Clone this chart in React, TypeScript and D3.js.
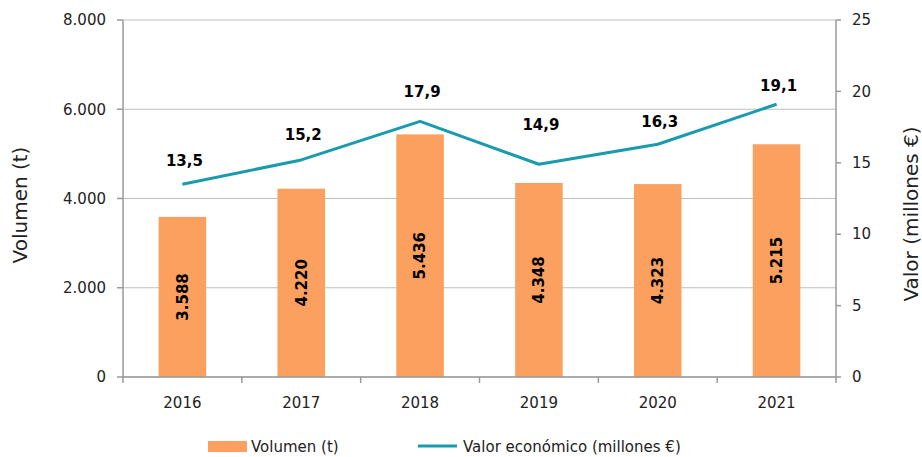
import React from "react";
import * as d3 from "d3";

const years = ["2016", "2017", "2018", "2019", "2020", "2021"];
const volumen = [3588, 4220, 5436, 4348, 4323, 5215];
const valor = [13.5, 15.2, 17.9, 14.9, 16.3, 19.1];
const leftTicks = [0, 2000, 4000, 6000, 8000];
const rightTicks = [0, 5, 10, 15, 20, 25];
// vertical gap between line point and its label (layout)
const valorLabelGap = [24, 25, 30, 40, 23, 19];

const W = 922;
const H = 457;
const M = { left: 123, right: 836, top: 20, bottom: 377 };
const FONT = "'DejaVu Sans', sans-serif";
const ORANGE = "#FBA05F";
const TEAL = "#1A9BAD";

const fmtVol = (v: number) => d3.format(",")(v).replace(/,/g, ".");
const fmtVal = (v: number) => v.toFixed(1).replace(".", ",");

export default function App() {
  const x = d3
    .scaleBand<string>()
    .domain(years)
    .range([M.left, M.right])
    .paddingInner(0.6)
    .paddingOuter(0.3);
  const step = x.step();
  const yL = d3.scaleLinear().domain([0, 8000]).range([M.bottom, M.top]);
  const yR = d3.scaleLinear().domain([0, 25]).range([M.bottom, M.top]);
  const cx = (d: string) => (x(d) as number) + x.bandwidth() / 2;

  const line = d3
    .line<number>()
    .x((_, i) => cx(years[i]))
    .y((d) => yR(d));

  return (
    <svg
      width={W}
      height={H}
      style={{ position: "absolute", left: 0, top: 0, background: "#fff" }}
      fontFamily={FONT}
    >
      {/* gridlines */}
      {leftTicks.map((t) => (
        <line
          key={"g" + t}
          x1={M.left}
          x2={M.right}
          y1={yL(t)}
          y2={yL(t)}
          stroke="#BFBFBF"
          strokeWidth={1.2}
        />
      ))}
      {/* bars */}
      {volumen.map((v, i) => (
        <rect
          key={"b" + i}
          x={x(years[i])}
          y={yL(v)}
          width={x.bandwidth()}
          height={yL(0) - yL(v)}
          fill={ORANGE}
        />
      ))}
      {/* axes */}
      <line x1={M.left} x2={M.left} y1={M.top} y2={M.bottom} stroke="#9A9A9A" strokeWidth={1.5} />
      <line x1={M.right} x2={M.right} y1={M.top} y2={M.bottom} stroke="#9A9A9A" strokeWidth={1.5} />
      <line x1={M.left} x2={M.right} y1={M.bottom} y2={M.bottom} stroke="#9A9A9A" strokeWidth={1.5} />
      {leftTicks.map((t) => (
        <g key={"lt" + t}>
          <line x1={M.left - 6} x2={M.left} y1={yL(t)} y2={yL(t)} stroke="#9A9A9A" strokeWidth={1.5} />
          <text x={M.left - 17} y={yL(t)} dy="0.35em" textAnchor="end" fontSize={15} fill="#222">
            {fmtVol(t)}
          </text>
        </g>
      ))}
      {rightTicks.map((t) => (
        <g key={"rt" + t}>
          <line x1={M.right} x2={M.right + 5} y1={yR(t)} y2={yR(t)} stroke="#9A9A9A" strokeWidth={1.5} />
          <text x={M.right + 16} y={yR(t)} dy="0.35em" textAnchor="start" fontSize={15} fill="#222">
            {t}
          </text>
        </g>
      ))}
      {d3.range(years.length + 1).map((i) => (
        <line
          key={"xt" + i}
          x1={M.left + i * step}
          x2={M.left + i * step}
          y1={M.bottom}
          y2={M.bottom + 6}
          stroke="#9A9A9A"
          strokeWidth={1.5}
        />
      ))}
      {years.map((yv) => (
        <text key={"xl" + yv} x={cx(yv)} y={408} textAnchor="middle" fontSize={15} fill="#222">
          {yv}
        </text>
      ))}
      {/* bar labels */}
      {volumen.map((v, i) => {
        const px = cx(years[i]);
        const py = (yL(v) + yL(0)) / 2;
        return (
          <text
            key={"bl" + i}
            transform={`translate(${px},${py}) rotate(-90)`}
            textAnchor="middle"
            dy="0.36em"
            fontSize={15}
            fontWeight="bold"
            fill="#000"
          >
            {fmtVol(v)}
          </text>
        );
      })}
      {/* line */}
      <path d={line(valor) || ""} fill="none" stroke={TEAL} strokeWidth={3} strokeLinejoin="round" />
      {valor.map((v, i) => (
        <text
          key={"vl" + i}
          x={cx(years[i]) + 2}
          y={yR(v) - valorLabelGap[i]}
          dy="0.36em"
          textAnchor="middle"
          fontSize={15}
          fontWeight="bold"
          fill="#000"
        >
          {fmtVal(v)}
        </text>
      ))}
      {/* axis titles */}
      <text transform="translate(20,205) rotate(-90)" textAnchor="middle" dy="0.35em" fontSize={20} fill="#222">
        Volumen (t)
      </text>
      <text transform="translate(911,214) rotate(-90)" textAnchor="middle" dy="0.35em" fontSize={20} fill="#222">
        Valor (millones €)
      </text>
      {/* legend */}
      <rect x={208} y={441} width={39} height={11} fill={ORANGE} />
      <text x={251} y={446.5} dy="0.35em" fontSize={15} fill="#222">
        Volumen (t)
      </text>
      <line x1={418} x2={457} y1={446} y2={446} stroke={TEAL} strokeWidth={3} />
      <text x={463} y={446.5} dy="0.35em" fontSize={15} fill="#222">
        Valor económico (millones €)
      </text>
    </svg>
  );
}
